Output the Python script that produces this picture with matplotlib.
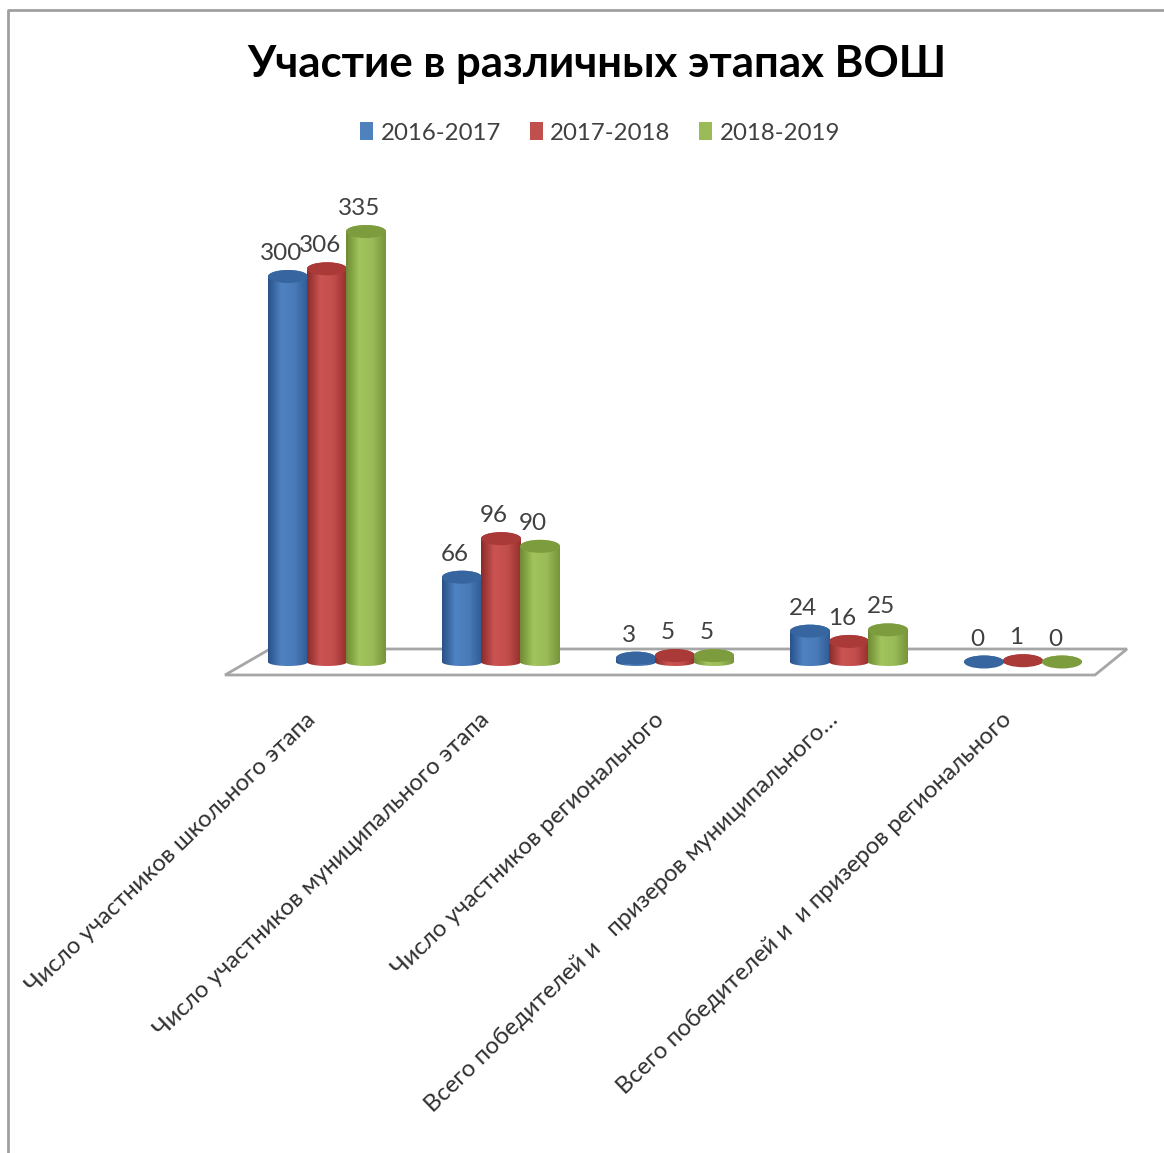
# -*- coding: utf-8 -*-
import numpy as np
import matplotlib
matplotlib.use('Agg')
import matplotlib.pyplot as plt
from matplotlib.colors import LinearSegmentedColormap
from matplotlib.lines import Line2D
from matplotlib.patches import Ellipse, Polygon, Patch
from matplotlib.path import Path
from matplotlib.transforms import ScaledTranslation

plt.rcParams['font.family'] = ['Lato', 'Noto Sans', 'DejaVu Sans']

categories = ['Число участников школьного этапа',
              'Число участников муниципального этапа',
              'Число участников регионального',
              'Всего победителей и   призеров муниципального…',
              'Всего победителей и  и призеров регионального']
years = ['2016-2017', '2017-2018', '2018-2019']
v_2016 = [300, 66, 3, 24, 0]
v_2017 = [306, 96, 5, 16, 1]
v_2018 = [335, 90, 5, 25, 0]

W, H = 1164, 1153
PX = 174.0      # pixels per category
PY = 1.285      # pixels per unit of value
X0 = 327        # pixel of first category
Y0 = 662        # pixel of value 0
MARGIN = 20     # pixels of axes under value 0, so cylinder bottoms are not cut
BAR = 39 / PX
DRAW = 40 / PX  # a little wider than the pitch, no white seam between bars
CAP = 13 / PY
DEPTH = 4 / PY  # how far the rounded bottom hangs below the base

# left to right: edge, highlight, edge
shades = [['#2a5288', '#4f82c2', '#4a7bb8', '#2f5c96'],
          ['#8a2c2a', '#cb5452', '#c24e4c', '#96302e'],
          ['#6f8c34', '#a2c45c', '#9abb58', '#76963a']]
tops = ['#37659f', '#a93a38', '#7d9c3e']
swatches = ['#4f81bd', '#c0504d', '#9bbb59']


def cylinder(ax, x, val, i):
    left, right = x - DRAW / 2, x + DRAW / 2
    t = np.linspace(0, np.pi, 40)
    low = np.column_stack([x - DRAW / 2 * np.cos(t), -DEPTH * np.sin(t)])
    high = np.column_stack([x + DRAW / 2 * np.cos(t), val + CAP / 2 * np.sin(t)])
    verts = np.vstack([low, high, low[:1]])
    cmap = LinearSegmentedColormap.from_list('c%d' % i, shades[i])
    im = ax.imshow(np.linspace(0, 1, 64).reshape(1, -1), cmap=cmap, aspect='auto',
                   extent=(left, right, -CAP, val + CAP), zorder=3 + i)
    im.set_clip_path(Path(verts), ax.transData)
    ax.add_patch(Ellipse((x, val), DRAW, CAP, fc=tops[i], ec='none', zorder=3 + i))


fig = plt.figure(figsize=(W / 100, H / 100), dpi=100, facecolor='white')
ax = fig.add_axes([225 / W, 1 - (Y0 + MARGIN) / H, (1127 - 225) / W, (Y0 + MARGIN - 150) / H])
ax.patch.set_alpha(0)

# page frame and chart floor
fx = lambda p: p / W
fy = lambda p: 1 - p / H
fig.add_artist(Line2D([fx(8), fx(8), 1], [0, fy(10), fy(10)], color='#a0a0a0', lw=2))
floor = Polygon([(fx(225), fy(675)), (fx(270), fy(649)), (fx(1127), fy(649)), (fx(1095), fy(675))],
                closed=True, fc='white', ec='#a6a6a6', lw=2, transform=fig.transFigure, zorder=-1)
fig.add_artist(floor)

x = np.arange(len(categories))
for i, vals in enumerate([v_2016, v_2017, v_2018]):
    for k, v in enumerate(vals):
        xc = x[k] + (i - 1) * BAR
        cylinder(ax, xc, v, i)
        ax.annotate(str(v), (xc, v), xytext=(-7, 23), textcoords='offset pixels',
                    ha='center', va='center', fontsize=17.5, color='#404040', zorder=10)

ax.set_xlim((225 - X0) / PX, (1127 - X0) / PX)
ax.set_ylim(-MARGIN / PY, (Y0 - 150) / PY)
ax.set_yticks([])
ax.set_xticks(x)
ax.set_xticklabels(categories, rotation=44, ha='right', rotation_mode='anchor',
                   fontsize=17.2, color='#303030')
ax.tick_params(axis='x', length=0, pad=19.5)
shift = ScaledTranslation(-22 / 100, 0, fig.dpi_scale_trans)
for lab in ax.get_xticklabels():
    lab.set_transform(lab.get_transform() + shift)
for s in ax.spines.values():
    s.set_visible(False)

fig.text(597 / W, 1 - 64 / H, 'Участие в различных этапах ВОШ', ha='center', va='center',
         fontsize=31.5, fontweight='bold', color='black')
handles = [Patch(fc=c, ec='none') for c in swatches]
fig.legend(handles, years, loc='center', bbox_to_anchor=(600 / W, 1 - 133 / H), ncol=3, frameon=False,
           fontsize=17.3, labelcolor='#404040', handlelength=0.55, handleheight=0.75,
           handletextpad=0.3, columnspacing=1.2)

fig.savefig('out.png', dpi=100)
